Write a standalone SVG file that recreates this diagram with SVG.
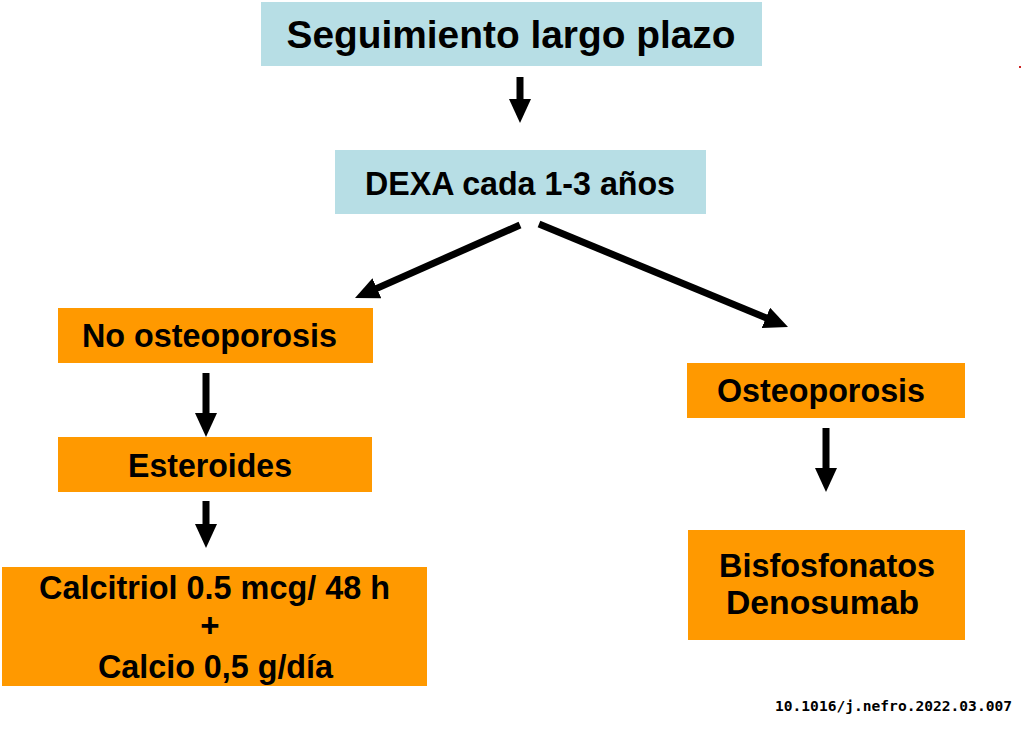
<svg xmlns="http://www.w3.org/2000/svg" width="1024" height="729" viewBox="0 0 1024 729">
  <style>
    .blue { fill: #b7dee5; }
    .orange { fill: #ff9900; }
    .t { font-family: "Liberation Sans", Arial, sans-serif; font-weight: bold; fill: #000; text-anchor: middle; }
    .m { font-size: 33px; }
    .big { font-size: 39px; }
    .conn { stroke: #000; stroke-width: 7; fill: none; marker-end: url(#head); }
    .doi { font-family: "DejaVu Sans Mono", "Liberation Mono", monospace; font-weight: bold; font-size: 14px; fill: #000; }
  </style>
  <defs>
    <marker id="head" markerUnits="userSpaceOnUse" markerWidth="24" markerHeight="22" viewBox="0 0 24 22" refX="2" refY="11" orient="auto">
      <path d="M0,0 L24,11 L0,22 Z" fill="#000"/>
    </marker>
  </defs>
  <rect width="1024" height="729" fill="#ffffff"/>

  <g id="n-seguimiento">
    <rect class="blue" x="261" y="2" width="501" height="64"/>
    <text class="t big" x="511" y="48" textLength="449" lengthAdjust="spacingAndGlyphs">Seguimiento largo plazo</text>
  </g>

  <g id="n-dexa">
    <rect class="blue" x="335" y="150" width="371" height="64"/>
    <text class="t m" x="520" y="195" textLength="310" lengthAdjust="spacingAndGlyphs">DEXA cada 1-3 años</text>
  </g>

  <g id="n-no-osteoporosis">
    <rect class="orange" x="58" y="308" width="315" height="55"/>
    <text class="t m" x="209.5" y="347" textLength="255" lengthAdjust="spacingAndGlyphs">No osteoporosis</text>
  </g>

  <g id="n-esteroides">
    <rect class="orange" x="58" y="437" width="314" height="55"/>
    <text class="t m" x="210" y="477" textLength="164" lengthAdjust="spacingAndGlyphs">Esteroides</text>
  </g>

  <g id="n-calcitriol">
    <rect class="orange" x="2" y="567" width="425" height="119"/>
    <text class="t m" x="214.5" y="599" textLength="351" lengthAdjust="spacingAndGlyphs">Calcitriol 0.5 mcg/ 48 h</text>
    <text class="t m" x="210" y="637">+</text>
    <text class="t m" x="215.5" y="678" textLength="235" lengthAdjust="spacingAndGlyphs">Calcio 0,5 g/día</text>
  </g>

  <g id="n-osteoporosis">
    <rect class="orange" x="687" y="363" width="278" height="55"/>
    <text class="t m" x="821" y="402" textLength="208" lengthAdjust="spacingAndGlyphs">Osteoporosis</text>
  </g>

  <g id="n-bisfosfonatos">
    <rect class="orange" x="688" y="530" width="277" height="110"/>
    <text class="t m" x="827" y="577" textLength="216" lengthAdjust="spacingAndGlyphs">Bisfosfonatos</text>
    <text class="t m" x="822.5" y="614" textLength="193" lengthAdjust="spacingAndGlyphs">Denosumab</text>
  </g>

  <g id="connectors">
    <line class="conn" x1="520" y1="77" x2="520" y2="101"/>
    <line class="conn" x1="520" y1="225" x2="375.1" y2="289.1"/>
    <line class="conn" x1="539" y1="224" x2="767.7" y2="318.6"/>
    <line class="conn" x1="206" y1="373" x2="206" y2="415"/>
    <line class="conn" x1="206" y1="501" x2="206" y2="526"/>
    <line class="conn" x1="826" y1="428" x2="826" y2="470"/>
  </g>

  <text class="doi" x="775" y="711" textLength="237" lengthAdjust="spacingAndGlyphs">10.1016/j.nefro.2022.03.007</text>
  <rect x="1019" y="66" width="2" height="2" fill="#cc2222"/>
</svg>
